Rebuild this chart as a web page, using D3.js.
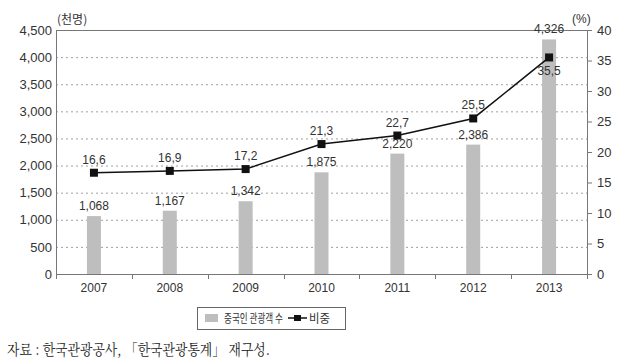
<!DOCTYPE html>
<html><head><meta charset="utf-8">
<script src="https://cdn.jsdelivr.net/npm/d3@7"></script>
<style>body{margin:0;background:#fff;}svg{display:block;}</style>
</head><body><svg id="c" width="620" height="364"></svg>
<script>
const years = ["2007","2008","2009","2010","2011","2012","2013"];
const visitors = [1068,1167,1342,1875,2220,2386,4326];
const shares = [16.6,16.9,17.2,21.3,22.7,25.5,35.5];
const leftTicks = [0,500,1000,1500,2000,2500,3000,3500,4000,4500];
const rightTicks = [0,5,10,15,20,25,30,35,40];

const svg = d3.select("#c");
const L=56,R=587,T=30,B=274;
const font = "'Liberation Sans', Arial, sans-serif";
const kfont = "'Noto Sans CJK KR', sans-serif";
const x = d3.scaleBand().domain(years).range([L,R]);
const yL = d3.scaleLinear().domain([0,4500]).range([B,T]);
const yR = d3.scaleLinear().domain([0,40]).range([B,T]);

// gridlines
svg.append("g").selectAll("line").data(leftTicks.filter(d=>d>0&&d<4500)).join("line")
  .attr("x1",L).attr("x2",R).attr("y1",d=>yL(d)+0.5).attr("y2",d=>yL(d)+0.5)
  .attr("stroke","#888").attr("stroke-width",0.8).attr("stroke-dasharray","2,3");
// top border
svg.append("line").attr("x1",L).attr("x2",R).attr("y1",T+0.5).attr("y2",T+0.5).attr("stroke","#777");

// bars
svg.append("g").selectAll("rect").data(visitors).join("rect")
  .attr("x",(d,i)=>x(years[i])+x.bandwidth()/2-7).attr("width",14)
  .attr("y",d=>yL(d)).attr("height",d=>B-yL(d)).attr("fill","#bebebe");

// left axis
const gl = svg.append("g").attr("transform",`translate(${L},0)`)
  .call(d3.axisLeft(yL).tickValues(leftTicks).tickSize(0).tickPadding(4).tickFormat(d3.format(",")));
gl.select(".domain").attr("stroke","#777");
gl.selectAll("text").attr("font-family",font).attr("font-size",13).attr("fill","#333");

// right axis
const gr = svg.append("g").attr("transform",`translate(${R},0)`)
  .call(d3.axisRight(yR).tickValues(rightTicks).tickSize(5).tickPadding(5));
gr.select(".domain").attr("stroke","#777");
gr.selectAll(".tick line").attr("stroke","#777");
gr.selectAll("text").attr("font-family",font).attr("font-size",13).attr("fill","#333");

// bottom axis
const gb = svg.append("g").attr("transform",`translate(0,${B})`)
  .call(d3.axisBottom(x).tickSize(0).tickPadding(9));
gb.select(".domain").attr("stroke","#777");
gb.selectAll("text").attr("font-family",font).attr("font-size",12).attr("fill","#333");
// category boundary ticks
svg.append("g").selectAll("line").data(years.slice(1)).join("line")
  .attr("x1",d=>Math.round(x(d))+0.5).attr("x2",d=>Math.round(x(d))+0.5)
  .attr("y1",B).attr("y2",B+5).attr("stroke","#777");
svg.append("line").attr("x1",L+0.5).attr("x2",L+0.5).attr("y1",B).attr("y2",B+5).attr("stroke","#777");
svg.append("line").attr("x1",R+0.5).attr("x2",R+0.5).attr("y1",B).attr("y2",B+5).attr("stroke","#777");

// bar labels
svg.append("g").selectAll("text").data(visitors).join("text")
  .attr("x",(d,i)=>x(years[i])+x.bandwidth()/2).attr("y",d=>yL(d)-6)
  .attr("text-anchor","middle").attr("font-family",font).attr("font-size",12).attr("fill","#333")
  .text(d=>d3.format(",")(d));

// line
const cx = (d,i)=>x(years[i])+x.bandwidth()/2;
svg.append("path").datum(shares)
  .attr("d",d3.line().x(cx).y(d=>yR(d)))
  .attr("fill","none").attr("stroke","#111").attr("stroke-width",1.5);
svg.append("g").selectAll("rect").data(shares).join("rect")
  .attr("x",(d,i)=>cx(d,i)-4).attr("y",d=>yR(d)-4).attr("width",8).attr("height",8).attr("fill","#111");
svg.append("g").selectAll("text").data(shares).join("text")
  .attr("x",cx).attr("y",(d,i)=>i===shares.length-1?yR(d)+18:yR(d)-9)
  .attr("text-anchor","middle").attr("font-family",font).attr("font-size",12).attr("fill","#333")
  .text(d=>d.toFixed(1).replace(".",","));

// units
svg.append("text").attr("x",57).attr("y",24).attr("font-family",kfont).attr("font-size",12).attr("fill","#333").text("(천명)");
svg.append("text").attr("x",572).attr("y",23).attr("font-family",font).attr("font-size",12).attr("fill","#333").text("(%)");

// legend
const lg = svg.append("g");
lg.append("rect").attr("x",197.5).attr("y",307.5).attr("width",148).attr("height",22).attr("fill","#fff").attr("stroke","#666");
lg.append("rect").attr("x",205).attr("y",314).attr("width",13).attr("height",8).attr("fill","#bebebe");
lg.append("text").attr("x",224).attr("y",323).attr("font-family",kfont).attr("font-size",12)
  .attr("textLength",59).attr("lengthAdjust","spacingAndGlyphs").attr("fill","#333").text("중국인 관광객 수");
lg.append("line").attr("x1",288).attr("x2",307).attr("y1",318).attr("y2",318).attr("stroke","#111").attr("stroke-width",1.5);
lg.append("rect").attr("x",294).attr("y",315).attr("width",7).attr("height",6).attr("fill","#111");
lg.append("text").attr("x",309).attr("y",323).attr("font-family",kfont).attr("font-size",12)
  .attr("textLength",21).attr("lengthAdjust","spacingAndGlyphs").attr("fill","#333").text("비중");

// source
svg.append("text").attr("x",7).attr("y",355).attr("font-family","'Noto Serif CJK KR','Noto Sans CJK KR', serif").attr("font-size",15)
  .attr("textLength",263).attr("lengthAdjust","spacingAndGlyphs").attr("fill","#222").text("자료 : 한국관광공사, 「한국관광통계」 재구성.");
</script></body></html>
